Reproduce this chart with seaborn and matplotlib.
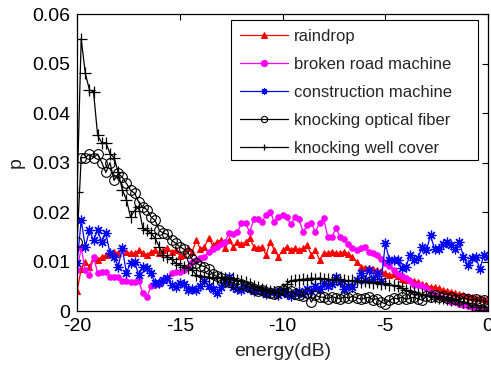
import numpy as np
import pandas as pd
import matplotlib
matplotlib.use('Agg')
import matplotlib.pyplot as plt
from matplotlib.patches import Rectangle
import seaborn as sns

# energy axis (dB), 0.2 dB steps from -20 to 0
energy = np.round(np.arange(-20, 0.0001, 0.2), 1)

raindrop = [
    0.004, 0.0085, 0.0099, 0.009, 0.0107, 0.0103, 0.011, 0.0113, 0.0117, 0.012,
    0.0117, 0.0127, 0.012, 0.0117, 0.0117, 0.0123, 0.0117, 0.0113, 0.012, 0.0123,
    0.0117, 0.0123, 0.0127, 0.012, 0.0123, 0.0112, 0.0113, 0.0128, 0.012, 0.0143,
    0.0125, 0.013, 0.0147, 0.0133, 0.014, 0.0143, 0.0127, 0.0143, 0.013, 0.014,
    0.0135, 0.014, 0.0147, 0.013, 0.0127, 0.013, 0.0113, 0.014, 0.0123, 0.011,
    0.0123, 0.013, 0.0123, 0.0127, 0.0123, 0.0127, 0.0133, 0.0113, 0.0123, 0.0103,
    0.0117, 0.0117, 0.012, 0.0117, 0.0117, 0.012, 0.0115, 0.011, 0.0099, 0.009,
    0.0088, 0.0088, 0.0085, 0.0083, 0.008, 0.0077, 0.0073, 0.0075, 0.007, 0.0065,
    0.0063, 0.0063, 0.006, 0.0058, 0.0055, 0.0052, 0.0049, 0.0048, 0.0046, 0.0043,
    0.0041, 0.0039, 0.0037, 0.0034, 0.0032, 0.003, 0.0029, 0.0027, 0.0026, 0.0024,
    0.0022]

broken_road = [
    0.0083, 0.0127, 0.0083, 0.0073, 0.011, 0.0077, 0.0079, 0.0079, 0.0069, 0.0069,
    0.0069, 0.006, 0.006, 0.0058, 0.0058, 0.006, 0.0036, 0.0029, 0.005, 0.0052,
    0.0055, 0.0063, 0.0067, 0.0077, 0.0079, 0.0079, 0.0083, 0.009, 0.0099, 0.0103,
    0.0107, 0.011, 0.012, 0.0125, 0.013, 0.0135, 0.014, 0.0157, 0.0155, 0.016,
    0.0177, 0.0177, 0.016, 0.0185, 0.0185, 0.018, 0.0195, 0.02, 0.018, 0.019,
    0.0194, 0.019, 0.0175, 0.019, 0.0185, 0.016, 0.0173, 0.0177, 0.016, 0.0178,
    0.0187, 0.015, 0.015, 0.0167, 0.015, 0.0145, 0.0135, 0.0128, 0.0123, 0.0127,
    0.013, 0.012, 0.0117, 0.0113, 0.0105, 0.0097, 0.0092, 0.0083, 0.0075, 0.007,
    0.0066, 0.006, 0.0052, 0.0052, 0.005, 0.0046, 0.0039, 0.0033, 0.0028, 0.0026,
    0.0024, 0.0018, 0.0018, 0.0015, 0.0012, 0.001, 0.0008, 0.0006, 0.0007, 0.0004,
    0.0002]

construction = [
    0.0097, 0.0183, 0.013, 0.0163, 0.0143, 0.0163, 0.014, 0.0157, 0.0117, 0.011,
    0.009, 0.0127, 0.0077, 0.0097, 0.0099, 0.0073, 0.009, 0.0087, 0.0077, 0.0057,
    0.0057, 0.0063, 0.0067, 0.0053, 0.0049, 0.0057, 0.0055, 0.0043, 0.0045, 0.0042,
    0.005, 0.006, 0.005, 0.0045, 0.0036, 0.0048, 0.0058, 0.0069, 0.0048, 0.0045,
    0.0042, 0.005, 0.0045, 0.004, 0.0045, 0.004, 0.0035, 0.0038, 0.004, 0.0032,
    0.004, 0.0035, 0.003, 0.0036, 0.004, 0.0034, 0.0045, 0.004, 0.005, 0.0045,
    0.0056, 0.005, 0.0055, 0.0069, 0.0058, 0.0045, 0.005, 0.0048, 0.0063, 0.0077,
    0.0063, 0.0083, 0.0065, 0.0077, 0.006, 0.0137, 0.0103, 0.0103, 0.0103, 0.0087,
    0.0089, 0.0113, 0.0103, 0.0108, 0.013, 0.0123, 0.0153, 0.0125, 0.0125, 0.0135,
    0.014, 0.0133, 0.0125, 0.014, 0.011, 0.0093, 0.0107, 0.011, 0.0085, 0.0113,
    0.011]

optical_fiber = [
    0.014, 0.031, 0.031, 0.0317, 0.031, 0.0317, 0.030, 0.028, 0.030, 0.0264,
    0.0278, 0.027, 0.0258, 0.0244, 0.0238, 0.022, 0.021, 0.0205, 0.019, 0.0183,
    0.0163, 0.0157, 0.0155, 0.0143, 0.0137, 0.013, 0.0125, 0.0117, 0.0105, 0.0097,
    0.0092, 0.009, 0.0085, 0.0075, 0.007, 0.0067, 0.006, 0.0058, 0.0057, 0.0053,
    0.0055, 0.005, 0.0048, 0.0045, 0.004, 0.0042, 0.0038, 0.0036, 0.0035, 0.004,
    0.0042, 0.0038, 0.004, 0.0035, 0.0032, 0.003, 0.0036, 0.0018, 0.0032, 0.0028,
    0.0028, 0.0025, 0.0029, 0.0027, 0.0025, 0.0029, 0.0026, 0.003, 0.0027, 0.0024,
    0.0026, 0.0028, 0.0023, 0.0025, 0.0018, 0.0015, 0.0022, 0.0026, 0.0025, 0.0028,
    0.0024, 0.0026, 0.0028, 0.0025, 0.0022, 0.003, 0.0028, 0.0032, 0.0028, 0.003,
    0.0026, 0.0028, 0.0025, 0.0022, 0.0027, 0.0024, 0.0022, 0.0025, 0.002, 0.0022,
    0.0018]

well_cover = [
    0.024, 0.055, 0.048, 0.0447, 0.0443, 0.0355, 0.034, 0.034, 0.0318, 0.031,
    0.028, 0.0245, 0.0225, 0.019, 0.0203, 0.021, 0.0167, 0.0163, 0.0157, 0.0147,
    0.013, 0.0113, 0.011, 0.0105, 0.0097, 0.0093, 0.009, 0.0088, 0.0083, 0.0073,
    0.007, 0.0069, 0.0069, 0.0067, 0.0067, 0.0068, 0.0067, 0.0065, 0.0067, 0.0063,
    0.006, 0.0058, 0.0055, 0.005, 0.0048, 0.0045, 0.0042, 0.004, 0.0038, 0.0036,
    0.0045, 0.0055, 0.006, 0.0063, 0.0062, 0.0065, 0.0063, 0.0067, 0.0065, 0.0067,
    0.0065, 0.0065, 0.0063, 0.0065, 0.0062, 0.0063, 0.006, 0.0062, 0.006, 0.0058,
    0.006, 0.0058, 0.0057, 0.0058, 0.0055, 0.0056, 0.0053, 0.0052, 0.005, 0.0046,
    0.0042, 0.004, 0.0038, 0.0035, 0.0034, 0.0032, 0.003, 0.0028, 0.0027, 0.0026,
    0.0024, 0.0022, 0.0024, 0.002, 0.0018, 0.0016, 0.0008, 0.0013, 0.0003, 0.0009,
    0.0002]

sns.set_style('white')
plt.rcParams['font.family'] = ['Liberation Sans', 'DejaVu Sans']

fig = plt.figure(figsize=(4.91, 3.69), dpi=100)
ax = fig.add_axes([0.157, 0.157, 0.837, 0.805])

asterisk = (8, 2, 0)
sns.lineplot(x=energy, y=raindrop, ax=ax, color='red', lw=0.9, marker='^',
             markersize=5, markeredgecolor='red', label='raindrop')
sns.lineplot(x=energy, y=broken_road, ax=ax, color='magenta', lw=0.9, marker='o',
             markersize=4, markeredgecolor='magenta', label='broken road machine')
sns.lineplot(x=energy, y=construction, ax=ax, color='blue', lw=0.9, marker=asterisk,
             markersize=7, markeredgecolor='blue', markeredgewidth=0.9,
             label='construction machine')
sns.lineplot(x=energy, y=optical_fiber, ax=ax, color='black', lw=0.9, marker='o',
             markersize=7, markerfacecolor='none', markeredgecolor='black',
             markeredgewidth=0.8, label='knocking optical fiber')
sns.lineplot(x=energy, y=well_cover, ax=ax, color='black', lw=0.9, marker='+',
             markersize=9, markeredgecolor='black', markeredgewidth=0.9,
             label='knocking well cover')

ax.set_xlim(-20, 0)
ax.set_ylim(0, 0.06)
ax.set_xticks([-20, -15, -10, -5, 0])
ax.set_xticklabels(['-20', '-15', '-10', '-5', '0'])
ax.set_yticks([0, 0.01, 0.02, 0.03, 0.04, 0.05, 0.06])
ax.set_yticklabels(['0', '0.01', '0.02', '0.03', '0.04', '0.05', '0.06'])
ax.tick_params(direction='in', top=True, right=True, length=4, width=0.8,
               labelsize=14, colors='black', pad=5)
for s in ax.spines.values():
    s.set_color('black')
    s.set_linewidth(0.9)
ax.set_xlabel('energy(dB)', fontsize=14, labelpad=6)
ax.set_ylabel('p', fontsize=14, labelpad=5)

# MATLAB-style legend: wide box with extra room on the right
leg = ax.legend(loc='upper left', bbox_to_anchor=(0.378, 0.976), fontsize=12,
                frameon=False, borderaxespad=0, handlelength=2.9,
                handletextpad=0.35, labelspacing=0.78, borderpad=0.45)
for h in leg.legend_handles:
    h.set_markersize(4.5)
ax.add_patch(Rectangle((0.375, 0.508), 0.601, 0.472, transform=ax.transAxes,
                       fill=True, facecolor='white', edgecolor='black',
                       lw=0.8, zorder=4.5))
leg.set_zorder(5)

fig.savefig('out.png', dpi=100)
